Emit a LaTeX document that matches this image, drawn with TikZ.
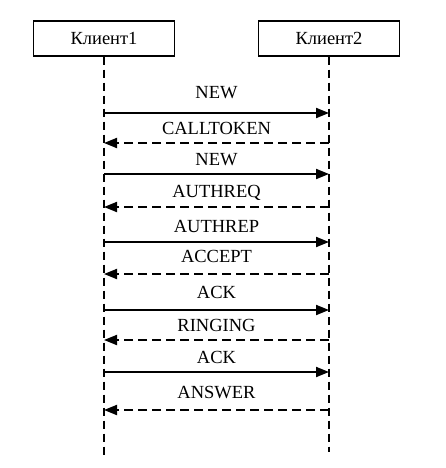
\documentclass[tikz,border=0pt]{standalone}
\usepackage{fontspec}
\setmainfont{Liberation Serif}
\usetikzlibrary{arrows.meta}
\tikzset{
  actor/.style={draw, line width=1.3pt, minimum width=141pt, minimum height=35pt, inner sep=0pt, font=\fontsize{18.5}{22}\selectfont},
  life/.style={line width=1.9pt, dash pattern=on 8pt off 5pt},
  req/.style={line width=1.9pt, -{Triangle[length=13pt,width=10pt]}},
  resp/.style={req, dash pattern=on 9pt off 5pt},
  lbl/.style={anchor=base, inner sep=0pt, font=\fontsize{18.5}{22}\selectfont}
}
\begin{document}
\begin{tikzpicture}[x=1pt,y=-1pt]
\useasboundingbox (0,0) rectangle (445,468);
\node[actor] (c1) at (104,38.5) {Клиент1};
\node[actor] (c2) at (329,38.5) {Клиент2};
\coordinate (c1e) at (104,455);
\coordinate (c2e) at (329,452);
\draw[life] (c1.south) -- (c1e);
\draw[life] (c2.south) -- (c2e);
% message points on lifelines
\foreach \i/\y in {1/113,2/143,3/174,4/207,5/242,6/274,7/310,8/340,9/372,10/410}{
  \coordinate (a\i) at (104,\y);
  \coordinate (b\i) at (329,\y);
}
\draw[req]  (a1) -- (b1);
\draw[resp] (b2) -- (a2);
\draw[req]  (a3) -- (b3);
\draw[resp] (b4) -- (a4);
\draw[req]  (a5) -- (b5);
\draw[resp] (b6) -- (a6);
\draw[req]  (a7) -- (b7);
\draw[resp] (b8) -- (a8);
\draw[req]  (a9) -- (b9);
\draw[resp] (b10) -- (a10);
\node[lbl] (m1) at (216.5,99) {NEW};
\node[lbl] (m2) at (216.5,135) {CALLTOKEN};
\node[lbl] (m3) at (216.5,165) {NEW};
\node[lbl] (m4) at (216.5,197) {AUTHREQ};
\node[lbl] (m5) at (216.5,232) {AUTHREP};
\node[lbl] (m6) at (216.5,262) {ACCEPT};
\node[lbl] (m7) at (216.5,298) {ACK};
\node[lbl] (m8) at (216.5,331) {RINGING};
\node[lbl] (m9) at (216.5,363) {ACK};
\node[lbl] (m10) at (216.5,398) {ANSWER};
\end{tikzpicture}
\end{document}
